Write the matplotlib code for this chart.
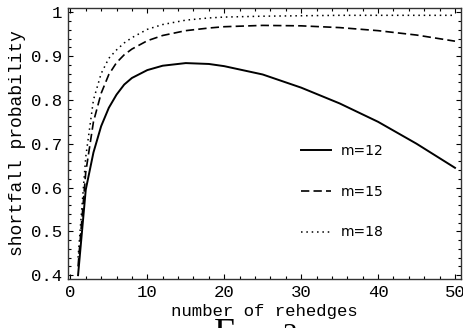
import matplotlib
matplotlib.use('Agg')
import matplotlib.pyplot as plt
from matplotlib.ticker import MultipleLocator

# number of rehedges (x) and shortfall probability
n = [1, 2, 3, 4, 5, 6, 7, 8, 10, 12, 15, 18, 20, 25, 30, 35, 40, 45, 50]
p_m12 = [0.40, 0.595, 0.68, 0.74, 0.782, 0.812, 0.835, 0.85, 0.868, 0.878,
         0.884, 0.882, 0.877, 0.858, 0.828, 0.792, 0.75, 0.70, 0.645]
p_m15 = [0.42, 0.635, 0.75, 0.815, 0.858, 0.885, 0.903, 0.916, 0.935, 0.947,
         0.958, 0.964, 0.967, 0.970, 0.969, 0.965, 0.958, 0.948, 0.934]
p_m18 = [0.44, 0.67, 0.80, 0.86, 0.895, 0.914, 0.93, 0.942, 0.961, 0.972,
         0.982, 0.987, 0.989, 0.991, 0.992, 0.993, 0.993, 0.993, 0.993]
labels = ['m=12', 'm=15', 'm=18']

mono = 'Liberation Mono'

fig = plt.figure(figsize=(4.63, 3.28), dpi=100)
ax = fig.add_axes([0.147, 0.149, 0.849, 0.827])

ax.plot(n, p_m12, color='black', lw=1.4, label=labels[0])
ax.plot(n, p_m15, color='black', lw=1.2, dashes=(5, 2.5), label=labels[1])
ax.plot(n, p_m18, color='black', lw=1.1, dashes=(1, 2.5), label=labels[2])

ax.set_xlim(-0.3, 50.8)
ax.set_ylim(0.391, 1.010)
ax.xaxis.set_major_locator(MultipleLocator(10))
ax.xaxis.set_minor_locator(MultipleLocator(2))
ax.yaxis.set_minor_locator(MultipleLocator(0.02))
ax.set_yticks([0.4, 0.5, 0.6, 0.7, 0.8, 0.9, 1.0])
ax.set_yticklabels(['0.4', '0.5', '0.6', '0.7', '0.8', '0.9', '1'])
ax.tick_params(which='both', direction='in', top=True, right=True, width=0.8)
ax.tick_params(which='major', length=3.5, pad=4, labelsize=12.5)
ax.tick_params(which='minor', length=2)
for lab in ax.get_xticklabels() + ax.get_yticklabels():
    lab.set_family(mono)
for s in ax.spines.values():
    s.set_linewidth(1.0)
    s.set_color('#333333')

ax.set_xlabel('number of rehedges', family=mono, fontsize=12.5, labelpad=3)
ax.set_ylabel('shortfall probability', family=mono, fontsize=13, labelpad=4)

ax.legend(loc='upper left', bbox_to_anchor=(0.56, 0.545), frameon=False,
          fontsize=10, handlelength=2.2, handletextpad=0.7, labelspacing=1.93)

# caption cut off at the bottom edge
fig.text(0.462, -0.05, 'F', family='Liberation Serif', fontsize=27)
fig.text(0.61, -0.045, '3', family='Liberation Serif', fontsize=21)

fig.savefig('out.png', dpi=100)
